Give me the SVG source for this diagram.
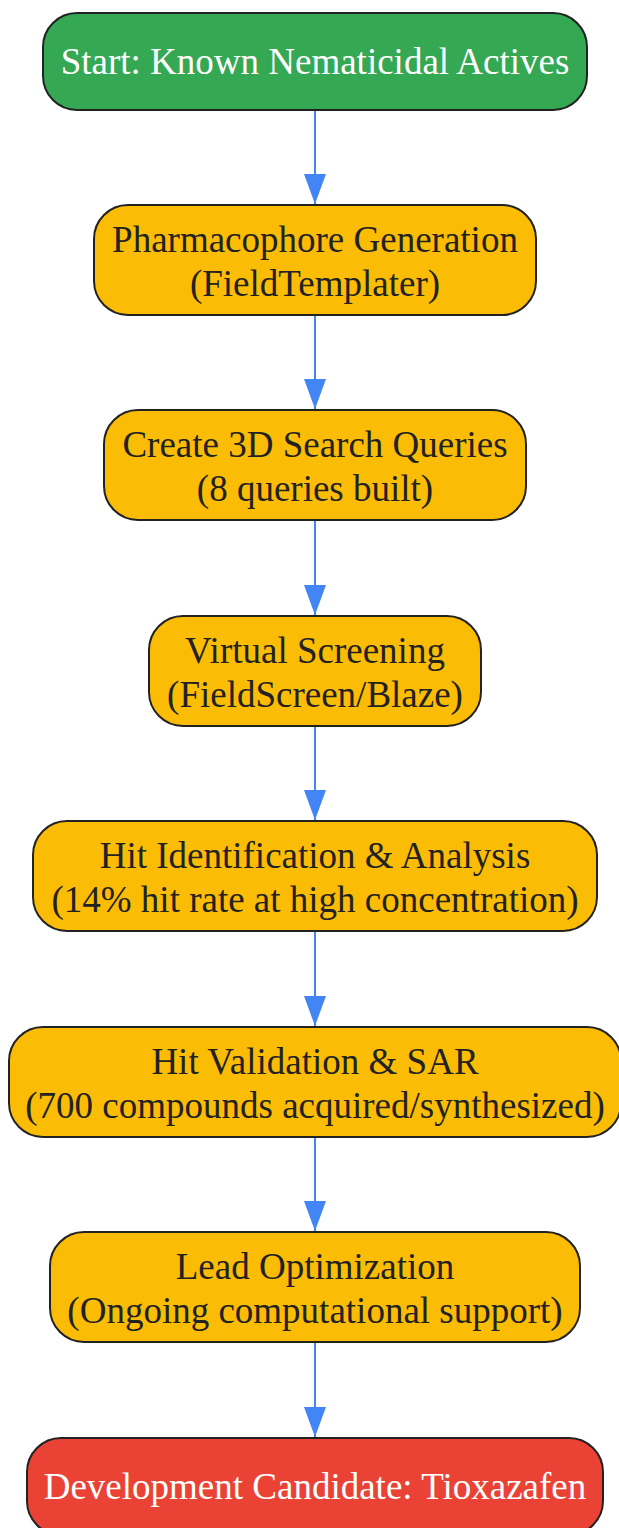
<svg xmlns="http://www.w3.org/2000/svg" width="619" height="1528" viewBox="0 0 619 1528">
<style>
.n rect{stroke:#222;stroke-width:2}
.g rect{fill:#34A853}.y rect{fill:#FBBC05}.r rect{fill:#EA4335}
text{font-family:"Liberation Serif","Times New Roman",serif;font-size:37px;text-anchor:middle}
.y text{fill:#222}.g text,.r text{fill:#fff}
.e line{stroke:#4285F4;stroke-width:2}
</style>
<defs>
<marker id="ah" viewBox="0 0 30 22" refX="30" refY="11" markerWidth="30" markerHeight="22" markerUnits="userSpaceOnUse" orient="auto">
<path d="M0,0 L30,11 L0,22 Z" fill="#4285F4"/>
</marker>
</defs>
<rect width="619" height="1528" fill="#fff"/>
<g class="e">
<line x1="315" y1="110" x2="315" y2="204" marker-end="url(#ah)"/>
<line x1="315" y1="316" x2="315" y2="409" marker-end="url(#ah)"/>
<line x1="315" y1="521" x2="315" y2="615" marker-end="url(#ah)"/>
<line x1="315" y1="727" x2="315" y2="820" marker-end="url(#ah)"/>
<line x1="315" y1="932" x2="315" y2="1026" marker-end="url(#ah)"/>
<line x1="315" y1="1138" x2="315" y2="1231" marker-end="url(#ah)"/>
<line x1="315" y1="1343" x2="315" y2="1437" marker-end="url(#ah)"/>
</g>
<g id="start" class="n g"><rect x="43" y="13" width="544" height="97" rx="34"/><text x="315" y="74">Start: Known Nematicidal Actives</text></g>
<g id="pharm" class="n y"><rect x="94" y="205" width="442" height="110" rx="34"/><text x="315" y="252">Pharmacophore Generation</text><text x="315" y="296">(FieldTemplater)</text></g>
<g id="query" class="n y"><rect x="104" y="410" width="422" height="110" rx="34"/><text x="315" y="457">Create 3D Search Queries</text><text x="315" y="501">(8 queries built)</text></g>
<g id="vs" class="n y"><rect x="149" y="616" width="332" height="110" rx="34"/><text x="315" y="663">Virtual Screening</text><text x="315" y="707">(FieldScreen/Blaze)</text></g>
<g id="hit" class="n y"><rect x="33" y="821" width="564" height="110" rx="34"/><text x="315" y="868">Hit Identification &amp; Analysis</text><text x="315" y="912">(14% hit rate at high concentration)</text></g>
<g id="val" class="n y"><rect x="9" y="1027" width="612" height="110" rx="34"/><text x="315" y="1074">Hit Validation &amp; SAR</text><text x="315" y="1118">(700 compounds acquired/synthesized)</text></g>
<g id="lead" class="n y"><rect x="50" y="1232" width="530" height="110" rx="34"/><text x="315" y="1279">Lead Optimization</text><text x="315" y="1323">(Ongoing computational support)</text></g>
<g id="dev" class="n r"><rect x="27" y="1438" width="576" height="97" rx="34"/><text x="315" y="1499">Development Candidate: Tioxazafen</text></g>
</svg>
